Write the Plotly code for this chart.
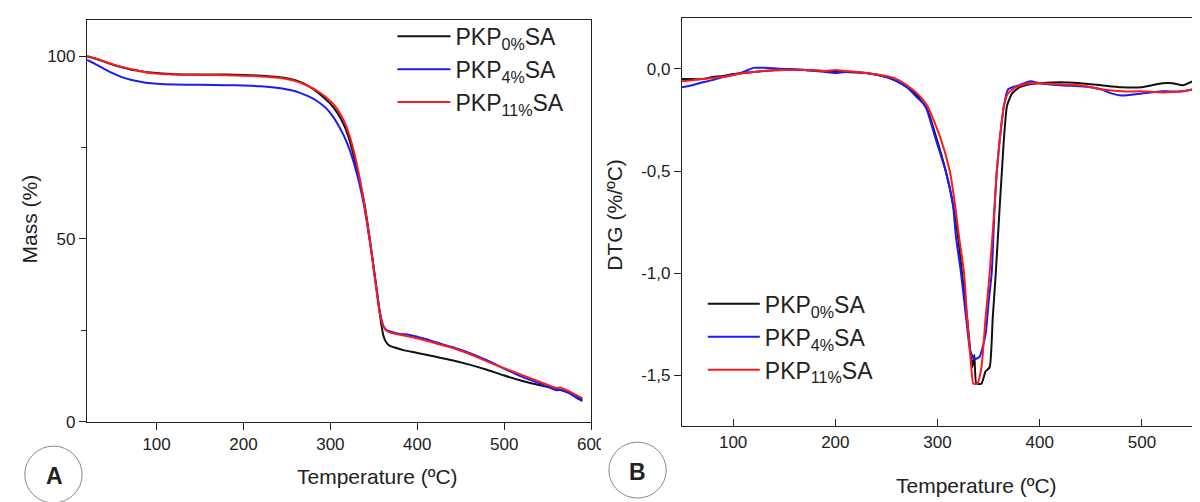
import plotly.graph_objects as go

# ---------------- Panel A: TGA (Mass %) ----------------
tga_t_0 = [20, 30, 40, 50, 60, 70, 80, 90, 100, 120, 150, 180, 200, 220, 240, 255, 265, 275, 285, 292, 300, 308, 315, 320, 325, 330, 335, 340, 345, 350, 355, 358, 361, 364, 368, 375, 385, 400, 420, 440, 460, 480, 500, 520, 540, 560, 575, 590]
tga_m_0 = [100, 99.3, 98.5, 97.7, 97.0, 96.4, 96.0, 95.6, 95.4, 95.1, 95.0, 95.0, 94.9, 94.7, 94.3, 93.7, 93.0, 91.8, 90.2, 88.8, 87.0, 84.5, 81.5, 78.5, 74.5, 69.5, 64.5, 58.5, 50.5, 42.0, 33.0, 27.5, 23.5, 21.8, 20.8, 20.2, 19.5, 18.8, 17.8, 16.8, 15.6, 14.2, 12.6, 11.2, 10.0, 9.0, 7.8, 6.0]

tga_t_4 = [20, 30, 40, 50, 60, 70, 80, 90, 100, 120, 150, 180, 200, 220, 240, 255, 265, 275, 285, 295, 303, 310, 316, 322, 328, 333, 338, 343, 348, 353, 357, 361, 365, 370, 380, 390, 400, 410, 420, 440, 460, 480, 500, 520, 540, 560, 565, 575, 585, 590]
tga_m_4 = [99.0, 97.8, 96.5, 95.3, 94.3, 93.6, 93.1, 92.7, 92.5, 92.3, 92.2, 92.1, 92.0, 91.8, 91.3, 90.7, 90.0, 89.0, 87.7, 85.8, 83.5, 80.8, 78.0, 74.5, 70.0, 65.5, 60.0, 53.0, 45.0, 36.5, 30.0, 26.2, 25.0, 24.6, 24.0, 23.8, 23.2, 22.6, 21.8, 20.4, 18.8, 16.8, 14.5, 12.3, 10.5, 8.6, 8.7, 7.8, 6.2, 5.6]

tga_t_11 = [20, 30, 40, 50, 60, 70, 80, 90, 100, 120, 150, 180, 200, 220, 240, 255, 265, 275, 285, 295, 305, 312, 318, 323, 328, 333, 338, 343, 348, 353, 357, 361, 365, 370, 380, 400, 420, 440, 460, 480, 500, 520, 540, 560, 565, 570, 580, 590]
tga_m_11 = [100, 99.4, 98.6, 97.8, 97.1, 96.5, 96.0, 95.5, 95.3, 95.0, 94.9, 94.8, 94.7, 94.5, 94.1, 93.5, 92.8, 91.8, 90.5, 88.8, 86.5, 84.0, 81.0, 77.5, 73.0, 67.5, 61.0, 53.5, 45.0, 36.0, 29.5, 26.0, 24.8, 24.3, 23.8, 22.8, 21.5, 20.2, 18.5, 16.5, 14.6, 12.8, 11.0, 9.2, 9.3, 8.8, 7.6, 6.4]

# ---------------- Panel B: DTG (%/ºC) ----------------
dtg_t_0 = [50, 60, 70, 80, 90, 100, 110, 120, 130, 150, 170, 190, 200, 210, 230, 250, 260, 270, 280, 290, 299, 308, 315, 320, 324, 329, 334, 336, 338, 343, 347, 351, 354, 357, 361, 363, 365, 368, 373, 380, 390, 400, 420, 440, 460, 480, 500, 520, 530, 540, 550]
dtg_v_0 = [-0.05, -0.05, -0.05, -0.04, -0.035, -0.025, -0.02, -0.015, -0.01, -0.005, -0.005, -0.01, -0.01, -0.015, -0.02, -0.04, -0.06, -0.09, -0.13, -0.2, -0.34, -0.5, -0.66, -0.82, -1.0, -1.22, -1.46, -1.4, -1.54, -1.54, -1.48, -1.46, -1.22, -1.0, -0.66, -0.5, -0.34, -0.18, -0.12, -0.09, -0.075, -0.07, -0.065, -0.07, -0.08, -0.09, -0.09, -0.07, -0.07, -0.08, -0.06]

dtg_t_4 = [50, 60, 70, 80, 90, 100, 110, 120, 130, 150, 170, 190, 200, 210, 230, 250, 260, 270, 280, 288, 298, 308, 315, 318, 323, 328, 332, 336, 341, 347, 350, 353, 356, 358, 361, 365, 369, 380, 391, 400, 420, 440, 450, 460, 470, 480, 500, 520, 540, 550]
dtg_v_4 = [-0.09, -0.08, -0.065, -0.055, -0.04, -0.03, -0.015, 0.005, 0.005, 0.0, -0.005, -0.015, -0.02, -0.015, -0.02, -0.04, -0.06, -0.09, -0.14, -0.18, -0.34, -0.5, -0.66, -0.82, -1.0, -1.22, -1.38, -1.42, -1.41, -1.3, -1.14, -1.0, -0.66, -0.5, -0.34, -0.18, -0.1, -0.08, -0.06, -0.07, -0.08, -0.085, -0.09, -0.1, -0.12, -0.13, -0.12, -0.11, -0.11, -0.1]

dtg_t_11 = [50, 60, 70, 80, 90, 100, 110, 120, 130, 150, 170, 190, 200, 210, 230, 250, 260, 270, 280, 290, 303, 312, 317, 321, 326, 329, 333, 335, 339, 343, 347, 351, 356, 358, 361, 365, 369, 376, 390, 400, 420, 440, 460, 480, 500, 520, 540, 550]
dtg_v_11 = [-0.06, -0.055, -0.05, -0.045, -0.04, -0.03, -0.02, -0.015, -0.01, -0.005, -0.005, -0.01, -0.005, -0.01, -0.02, -0.035, -0.05, -0.08, -0.12, -0.18, -0.34, -0.5, -0.66, -0.82, -1.0, -1.22, -1.46, -1.54, -1.54, -1.46, -1.22, -1.0, -0.66, -0.5, -0.34, -0.18, -0.12, -0.09, -0.07, -0.07, -0.075, -0.08, -0.1, -0.11, -0.11, -0.115, -0.11, -0.1]

series_names = ["PKP<sub>0%</sub>SA", "PKP<sub>4%</sub>SA", "PKP<sub>11%</sub>SA"]
series_colors = ["#111111", "#1a1aff", "#ff1a1a"]

tga_tickvals_x = [100, 200, 300, 400, 500, 600]
tga_tickvals_y = [0, 50, 100]
dtg_tickvals_x = [100, 200, 300, 400, 500]
dtg_tickvals = [0.0, -0.5, -1.0, -1.5]
dtg_ticktext = ["0,0", "-0,5", "-1,0", "-1,5"]

FONT = "Liberation Sans, Arial, sans-serif"

fig = go.Figure()

tga_sets = [(tga_t_0, tga_m_0), (tga_t_4, tga_m_4), (tga_t_11, tga_m_11)]
for (t, m), name, col in zip(tga_sets, series_names, series_colors):
    fig.add_trace(go.Scatter(x=t, y=m, mode="lines", name=name,
                             line=dict(color=col, width=2, shape="spline", smoothing=0.6),
                             xaxis="x", yaxis="y", legend="legend"))

dtg_sets = [(dtg_t_0, dtg_v_0), (dtg_t_4, dtg_v_4), (dtg_t_11, dtg_v_11)]
for (t, v), name, col in zip(dtg_sets, series_names, series_colors):
    fig.add_trace(go.Scatter(x=t, y=v, mode="lines", name=name,
                             line=dict(color=col, width=2, shape="spline", smoothing=0.5),
                             xaxis="x2", yaxis="y2", legend="legend2"))

W, H = 1200, 502
def px(x):
    return x / W
def py(y):
    return 1 - y / H

def axis_style(ticks="outside"):
    return dict(showline=True, linecolor="#222", linewidth=1.3, mirror=True,
                ticks=ticks, ticklen=7, tickcolor="#222", showgrid=False,
                zeroline=False, tickfont=dict(size=17, color="#222", family=FONT))

fig.update_layout(
    width=W, height=H,
    margin=dict(l=0, r=0, t=0, b=0),
    paper_bgcolor="white", plot_bgcolor="white",
    font=dict(family=FONT, color="#222"),
    xaxis=dict(domain=[px(80), px(590)], range=[20, 600], tickvals=tga_tickvals_x,
               anchor="y", **axis_style("outside")),
    yaxis=dict(domain=[py(422), py(12)], range=[0, 110], tickvals=tga_tickvals_y,
               minor=dict(tickvals=[25, 75], ticks="outside", ticklen=5, tickcolor="#222"),
               anchor="x", **axis_style("outside")),
    xaxis2=dict(domain=[px(682), px(1199)], range=[50, 550], tickvals=dtg_tickvals_x,
                anchor="y2", **axis_style("inside")),
    yaxis2=dict(domain=[py(427), py(10)], range=[-1.75, 0.25], tickvals=dtg_tickvals,
                ticktext=dtg_ticktext, anchor="x2", **axis_style("outside")),
    legend=dict(x=px(389), y=py(7), xanchor="left", yanchor="top", bgcolor="rgba(0,0,0,0)",
                font=dict(size=23, family=FONT, color="#222"), itemwidth=53,
                tracegroupgap=0, traceorder="normal"),
    legend2=dict(x=px(703), y=py(280), xanchor="left", yanchor="top", bgcolor="rgba(0,0,0,0)",
                 font=dict(size=23, family=FONT, color="#222"), itemwidth=52,
                 tracegroupgap=0, traceorder="normal"),
    showlegend=True,
)

def ann(text, x, y, size, angle=0):
    return dict(text=text, x=px(x), y=py(y), xref="paper", yref="paper", textangle=angle,
                xanchor="center", yanchor="middle", showarrow=False,
                font=dict(size=size, family=FONT, color="#222"))

annotations = [
    ann("Mass (%)", 22, 215, 21, -90),
    ann("Temperature (ºC)", 374, 478, 21),
    ann("DTG (%/ºC)", 614, 211, 21, -90),
    ann("Temperature (ºC)", 980, 487, 21),
    ann("<b>A</b>", 47, 478, 23),
    ann("<b>B</b>", 637, 473, 23),
]
fig.update_layout(annotations=annotations)

shapes = [
    # white mask clipping the "600" label at the panel edge
    dict(type="rect", xref="paper", yref="paper", x0=px(600), x1=px(660), y0=py(455), y1=py(428),
         fillcolor="white", line=dict(width=0), layer="above"),
    dict(type="circle", xref="paper", yref="paper", x0=px(17), x1=px(75), y0=py(447), y1=py(505),
         line=dict(color="#888", width=1)),
    dict(type="circle", xref="paper", yref="paper", x0=px(608), x1=px(666), y0=py(443), y1=py(500),
         line=dict(color="#888", width=1)),
]
fig.update_layout(shapes=shapes)

fig.write_html("out.html")
